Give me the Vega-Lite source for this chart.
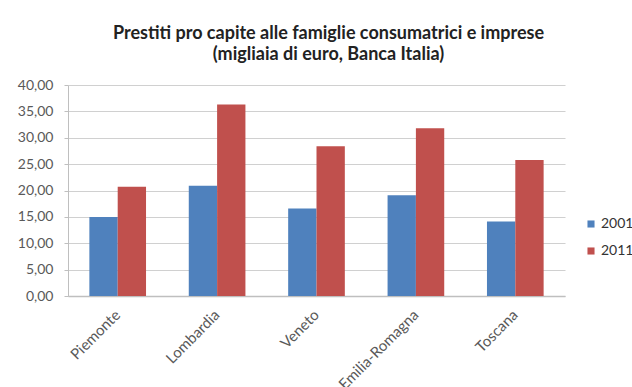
{
  "$schema": "https://vega.github.io/schema/vega-lite/v6.json",
  "width": 497,
  "height": 211,
  "autosize": {"type": "none"},
  "padding": {"left": 68, "top": 85, "right": 67, "bottom": 91},
  "background": "white",
  "title": {
    "text": ["Prestiti pro capite alle famiglie consumatrici e imprese", "(migliaia di euro, Banca Italia)"],
    "anchor": "middle",
    "frame": "group",
    "dx": 12,
    "offset": 14,
    "font": "Lato",
    "fontSize": 18,
    "fontWeight": "bold",
    "color": "#222222",
    "lineHeight": 21
  },
  "data": {
    "values": [
      {"regione": "Piemonte", "anno": "2001", "valore": 15.0},
      {"regione": "Piemonte", "anno": "2011", "valore": 20.7},
      {"regione": "Lombardia", "anno": "2001", "valore": 20.9},
      {"regione": "Lombardia", "anno": "2011", "valore": 36.3},
      {"regione": "Veneto", "anno": "2001", "valore": 16.6},
      {"regione": "Veneto", "anno": "2011", "valore": 28.4},
      {"regione": "Emilia-Romagna", "anno": "2001", "valore": 19.1},
      {"regione": "Emilia-Romagna", "anno": "2011", "valore": 31.8},
      {"regione": "Toscana", "anno": "2001", "valore": 14.1},
      {"regione": "Toscana", "anno": "2011", "valore": 25.8}
    ]
  },
  "mark": {"type": "bar"},
  "encoding": {
    "x": {
      "field": "regione",
      "type": "nominal",
      "sort": null,
      "scale": {"paddingInner": 0.43, "paddingOuter": 0.215},
      "axis": {
        "title": null,
        "labelAngle": -45,
        "labelAlign": "right",
        "labelBaseline": "middle",
        "labelFont": "Lato",
        "labelFontSize": 15,
        "labelColor": "#595959",
        "labelPadding": 16,
        "labelOverlap": false,
        "ticks": false,
        "domainColor": "#BFBFBF",
        "domainWidth": 1.5
      }
    },
    "xOffset": {"field": "anno", "type": "nominal", "scale": {"paddingInner": 0, "paddingOuter": 0}},
    "y": {
      "field": "valore",
      "type": "quantitative",
      "scale": {"domain": [0, 40], "nice": false},
      "axis": {
        "title": null,
        "values": [0, 5, 10, 15, 20, 25, 30, 35, 40],
        "labelExpr": "replace(format(datum.value, '.2f'), '.', ',')",
        "labelFont": "Lato",
        "labelFontSize": 14,
        "labelColor": "#595959",
        "labelPadding": 11,
        "gridColor": "#D0D0D0",
        "gridWidth": 1.2,
        "domainColor": "#BFBFBF",
        "tickColor": "#BFBFBF",
        "tickSize": 4
      }
    },
    "color": {
      "field": "anno",
      "type": "nominal",
      "scale": {"domain": ["2001", "2011"], "range": ["#4F81BD", "#C0504D"]},
      "legend": {
        "title": null,
        "orient": "none",
        "legendX": 516,
        "legendY": 132,
        "symbolType": "square",
        "symbolSize": 50,
        "symbolStrokeWidth": 0,
        "labelFont": "Lato",
        "labelFontSize": 14,
        "labelColor": "#333333",
        "rowPadding": 13,
        "labelOffset": 3
      }
    }
  },
  "config": {
    "view": {"stroke": null}
  }
}
